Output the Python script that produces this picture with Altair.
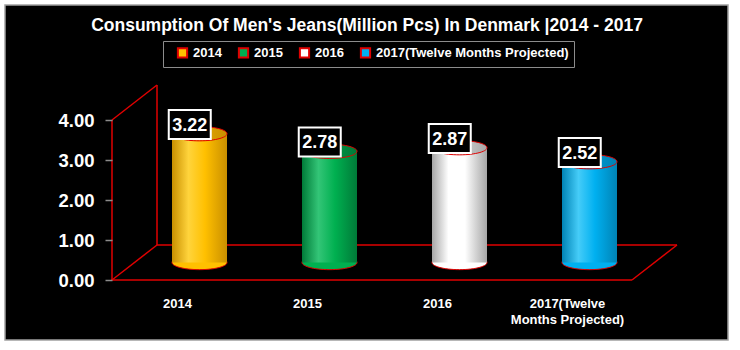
import json
import numpy as np
import pandas as pd
import altair as alt

# ---------------- data ----------------
categories = ["2014", "2015", "2016", "2017(Twelve Months Projected)"]
axis_label_lines = [["2014"], ["2015"], ["2016"], ["2017(Twelve", "Months Projected)"]]
values = [3.22, 2.78, 2.87, 2.52]
colors = ["#FFC000", "#00B050", "#FFFFFF", "#00B0F0"]
dark_shades = ["#C98F00", "#007A38", "#A6A6A6", "#0083B5"]
light_shades = ["#FFD43C", "#33C577", "#FFFFFF", "#45CCF8"]
y_ticks = [0, 1, 2, 3, 4]
title_text = "Consumption Of Men's Jeans(Million Pcs) In Denmark  |2014 - 2017"

# ---------------- geometry / style ----------------
FONT = "Liberation Sans, Arial"
NUM_FONT = "Liberation Sans, Arial"
RED = "#E00000"
W, H = 572, 200
X_DOM = [-0.5, 3.9]
Y_DOM = [0, 5]
PX_X = W / (X_DOM[1] - X_DOM[0])
PX_Y = H / (Y_DOM[1] - Y_DOM[0])
DEPTH_X = 45 / PX_X          # 3D depth offset in x units
DEPTH_Y = 35 / PX_Y          # 3D depth offset in y units
CYL_W = 55                   # cylinder width in px
HALF_W = (CYL_W / 2) / PX_X

df = pd.DataFrame({"cat": categories, "idx": list(range(len(categories))), "value": values})

x_axis_expr = " : ".join(
    f"datum.value == {i} ? {json.dumps(lines)}" for i, lines in enumerate(axis_label_lines)
) + " : ''"


def X(field):
    return alt.X(
        field, type="quantitative",
        scale=alt.Scale(domain=X_DOM, nice=False, zero=False),
        axis=alt.Axis(values=list(range(len(categories))), labelExpr=x_axis_expr,
                      ticks=False, tickSize=0, domain=False, grid=False, title=None,
                      labelColor="white", labelFont=FONT, labelFontSize=13,
                      labelFontWeight="bold", labelPadding=17, labelLineHeight=16,
                      labelAlign="center", zindex=1),
    )


def Y(field):
    return alt.Y(
        field, type="quantitative",
        scale=alt.Scale(domain=Y_DOM, nice=False, zero=False),
        axis=alt.Axis(values=y_ticks, format=".2f", domain=False, grid=False, title=None,
                      tickColor="#8C8C8C", tickSize=7, tickWidth=1.5,
                      labelColor="white", labelFont=NUM_FONT, labelFontSize=18.5,
                      labelFontWeight="bold", labelPadding=11, zindex=1),
    )


# ellipse and box symbol shapes (unit space [-1, 1])
th = np.linspace(0, 2 * np.pi, 60, endpoint=False)
ELLIPSE = "M" + " L".join(f"{np.cos(t):.4f},{0.26 * np.sin(t):.4f}" for t in th) + " Z"
BOX = "M-1,-0.69 L1,-0.69 L1,0.69 L-1,0.69 Z"

# background panel
panel = alt.Chart(df).mark_rect(fill="black", stroke="#A0A0A0", strokeWidth=1.5).encode(
    x=alt.value(-107), x2=alt.value(616), y=alt.value(-75), y2=alt.value(260)
).transform_filter("datum.idx == 0")

# 3D frame (wall + floor) built from the axis extents
x0, x1, ymax = -0.5, 3.5, max(y_ticks)
segs = pd.DataFrame([
    (x0, 0, x0, ymax),
    (x0, ymax, x0 + DEPTH_X, ymax + DEPTH_Y),
    (x0 + DEPTH_X, ymax + DEPTH_Y, x0 + DEPTH_X, DEPTH_Y),
    (x0 + DEPTH_X, DEPTH_Y, x0, 0),
    (x0, 0, x1, 0),
    (x1, 0, x1 + DEPTH_X, DEPTH_Y),
    (x0 + DEPTH_X, DEPTH_Y, x1 + DEPTH_X, DEPTH_Y),
], columns=["xa", "ya", "xb", "yb"])
frame = alt.Chart(segs).mark_rule(color=RED, strokeWidth=1.5).encode(
    x=X("xa"), y=Y("ya"), x2="xb:Q", y2="yb:Q"
)

base = alt.Chart(df).transform_calculate(
    cx=f"datum.idx + {DEPTH_X / 2}",
    left=f"datum.idx + {DEPTH_X / 2 - HALF_W}",
    right=f"datum.idx + {DEPTH_X / 2 + HALF_W}",
    bottom=f"{DEPTH_Y / 2}",
    top=f"datum.value + {DEPTH_Y / 2}",
    lx=f"datum.idx + {DEPTH_X / 2} - 0.075",
    ly=f"datum.value + {DEPTH_Y / 2} + 0.23",
)

bottom_ell = base.mark_point(shape=ELLIPSE, size=CYL_W ** 2, filled=True, opacity=1,
                             stroke=RED, strokeWidth=1).encode(
    x=X("cx"), y=Y("bottom"),
    color=alt.Color("cat:N", scale=alt.Scale(domain=categories, range=colors),
                    legend=alt.Legend(orient="none", legendX=51, legendY=-39, direction="horizontal",
                                      title=" ", titleOrient="left", titlePadding=8,
                                      titleFontSize=13,
                                      symbolType="square", symbolSize=85,
                                      symbolStrokeColor=RED, symbolStrokeWidth=2, symbolOpacity=1,
                                      labelColor="white", labelFont=FONT, labelFontSize=13,
                                      labelFontWeight="bold", labelLimit=400, columnPadding=12,
                                      padding=5, strokeColor="#8C8C8C", fillColor="black",
                                      labelOffset=4)),
)

layers = [panel, frame, bottom_ell]
for i, cat in enumerate(categories):
    grad = alt.Gradient(gradient="linear", x1=0, x2=1, y1=0, y2=0, stops=[
        alt.GradientStop(color=dark_shades[i], offset=0),
        alt.GradientStop(color=light_shades[i], offset=0.3),
        alt.GradientStop(color=colors[i], offset=0.6),
        alt.GradientStop(color=dark_shades[i], offset=1),
    ])
    body = base.transform_filter(alt.datum.cat == cat).mark_bar(color=grad, stroke=None).encode(
        x=X("left"), x2="right:Q", y=Y("bottom"), y2="top:Q"
    )
    top_grad = alt.Gradient(gradient="linear", x1=0, x2=1, y1=0, y2=0, stops=[
        alt.GradientStop(color=colors[i], offset=0),
        alt.GradientStop(color=dark_shades[i], offset=1),
    ])
    top_ell = base.transform_filter(alt.datum.cat == cat).mark_point(
        shape=ELLIPSE, size=CYL_W ** 2, filled=True, opacity=1, color=top_grad,
        stroke=RED, strokeWidth=1
    ).encode(x=X("cx"), y=Y("top"))
    layers += [body, top_ell]

label_box = base.mark_point(shape=BOX, size=42 ** 2, filled=True, fill="black", opacity=1,
                            stroke="white", strokeWidth=2).encode(x=X("lx"), y=Y("ly"))
label_txt = base.mark_text(color="white", font=NUM_FONT, fontSize=18, fontWeight="bold",
                           baseline="middle", align="center", dy=1).encode(
    x=X("lx"), y=Y("ly"), text=alt.Text("value:Q", format=".2f"))
layers += [label_box, label_txt]

chart = alt.layer(*layers).properties(
    width=W, height=H,
    title=alt.Title(title_text, color="white", font=FONT, fontSize=17.5, fontWeight="bold",
                    anchor="middle", offset=-30, dx=-31),
    autosize=alt.AutoSizeParams(type="none"),
    padding={"left": 112, "top": 80, "right": 56, "bottom": 70},
    background="white",
).configure_view(stroke=None)

chart.save("out.html", embed_options={"renderer": "svg", "actions": False})
